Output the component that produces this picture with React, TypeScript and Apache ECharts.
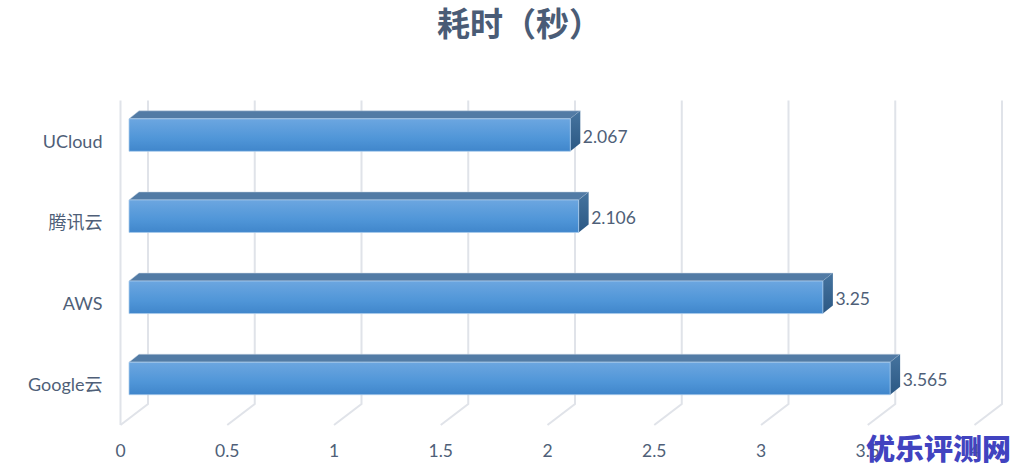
import React, { useEffect, useRef } from "react";
import * as echarts from "echarts";

const categories = ["Google云", "AWS", "腾讯云", "UCloud"];
const values = [3.565, 3.25, 2.106, 2.067];
const xTicks = [0, 0.5, 1, 1.5, 2, 2.5, 3, 3.5, 4];

const FONT = 'Lato, "Noto Sans CJK SC", sans-serif';
const TEXT = "#4f5f78";
const GRID = "#e0e3e9";

export default function App() {
  const ref = useRef<HTMLDivElement>(null);
  useEffect(() => {
    const chart = echarts.init(ref.current!, undefined, { renderer: "svg" });
    chart.setOption({
      animation: false,
      backgroundColor: "#ffffff",
      title: {
        text: "耗时（秒）",
        left: 437,
        top: 5,
        padding: 0,
        textStyle: { fontFamily: '"Noto Sans CJK SC", sans-serif', fontSize: 33, fontWeight: "bold", color: "#4a5c76" },
      },
      grid: { left: 120.5, top: 100.5, width: 854, height: 324.5 },
      xAxis: {
        type: "value",
        min: 0,
        max: 4,
        interval: 0.5,
        axisLine: { show: false },
        axisTick: { show: false },
        splitLine: { show: false },
        axisLabel: { margin: 17, fontFamily: FONT, fontSize: 17.5, color: TEXT, hideOverlap: false },
      },
      yAxis: {
        type: "category",
        data: categories,
        axisLine: { show: false },
        axisTick: { show: false },
        splitLine: { show: false },
        axisLabel: { margin: 18, fontFamily: FONT, fontSize: 18, color: TEXT },
      },
      series: [
        {
          type: "custom",
          clip: false,
          silent: true,
          z: 1,
          data: xTicks.map((v) => [v, 0]),
          encode: { x: 0 },
          renderItem: (params: any, api: any) => {
            const cs = params.coordSys;
            const x = api.coord([api.value(0), 0])[0];
            const bottom = cs.y + cs.height;
            const lineStyle = { stroke: GRID, lineWidth: 2, fill: "none" };
            const children: any[] = [
              {
                type: "polyline",
                shape: { points: [[x + 27.5, cs.y], [x + 27.5, bottom - 21], [x, bottom]] },
                style: lineStyle,
              },
            ];
            if (api.value(0) === 0) {
              children.push({ type: "line", shape: { x1: x, y1: cs.y, x2: x, y2: bottom }, style: lineStyle });
            }
            return { type: "group", children };
          },
        },
        {
          type: "custom",
          clip: false,
          silent: true,
          z: 2,
          data: values.map((v, i) => [v, i]),
          encode: { x: 0, y: 1 },
          renderItem: (_params: any, api: any) => {
            const v = api.value(0);
            const [xv, yc] = api.coord([v, api.value(1)]);
            const [x0] = api.coord([0, api.value(1)]);
            const l = x0 + 8.5;
            const r = xv + 8.5;
            const t = yc - 6 - 16.25;
            const b = yc - 6 + 16.25;
            const dx = 10;
            const dy = 8;
            return {
              type: "group",
              children: [
                {
                  type: "polygon",
                  shape: { points: [[l, t], [l + dx, t - dy], [r + dx, t - dy], [r, t]] },
                  style: { fill: "#527ba5", stroke: "#c9d6e4", lineWidth: 0.5 },
                },
                {
                  type: "polygon",
                  shape: { points: [[r, t], [r + dx, t - dy], [r + dx, b - dy], [r, b]] },
                  style: {
                    fill: new echarts.graphic.LinearGradient(0, 0, 0, 1, [
                      { offset: 0, color: "#46749f" },
                      { offset: 1, color: "#2b5884" },
                    ]),
                  },
                },
                {
                  type: "rect",
                  shape: { x: l, y: t, width: r - l, height: b - t },
                  style: {
                    fill: new echarts.graphic.LinearGradient(0, 0, 0, 1, [
                      { offset: 0, color: "#6ca6e0" },
                      { offset: 0.6, color: "#5096d8" },
                      { offset: 1, color: "#4086cb" },
                    ]),
                    stroke: "#a9cbec",
                    lineWidth: 0.75,
                  },
                },
                {
                  type: "text",
                  x: r + 12.5,
                  y: yc - 5,
                  style: {
                    text: String(v),
                    fontFamily: FONT,
                    fontSize: 17.5,
                    fill: TEXT,
                    align: "left",
                    verticalAlign: "middle",
                  },
                },
              ],
            };
          },
        },
      ],
      graphic: [
        {
          type: "text",
          x: 866,
          y: 447,
          z: 100,
          style: {
            text: "优乐评测网",
            fontFamily: '"Noto Sans CJK SC", sans-serif',
            fontSize: 29,
            fontWeight: 900,
            fill: "#4143c0",
            align: "left",
            verticalAlign: "middle",
          },
        },
      ],
    });
    return () => chart.dispose();
  }, []);
  return <div ref={ref} style={{ position: "fixed", left: 0, top: 0, width: 1024, height: 475 }} />;
}
